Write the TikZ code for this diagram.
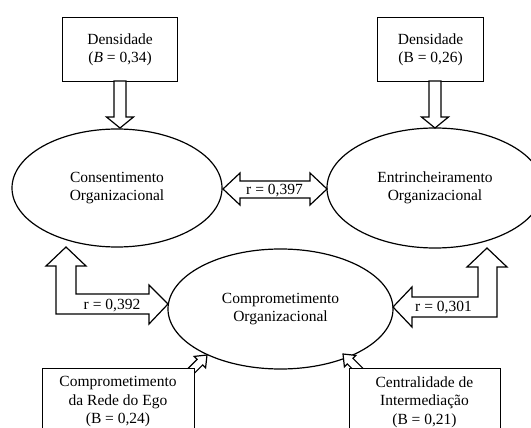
\documentclass[tikz,border=0pt]{standalone}
\usepackage{fontspec}
\setmainfont{Liberation Serif}
\usetikzlibrary{shapes.geometric}
\begin{document}
\begin{tikzpicture}[x=1pt,y=-1pt,
  every node/.style={font=\fontsize{15.5}{18.5}\selectfont, align=center, inner sep=0pt},
  oval/.style={draw, line width=1.2pt, ellipse},
  box/.style={draw, line width=1.2pt, fill=white, anchor=north west},
  blk/.style={draw, line width=1.2pt, fill=white, line join=miter},
  lab/.style={font=\fontsize{15.5}{18}\selectfont}]
\useasboundingbox (0,0) rectangle (531,428);
\clip (0,0) rectangle (531,428);
\fill[white] (0,0) rectangle (531,428);

% ellipses
\node[oval, minimum width=210pt, minimum height=118pt] (cons) at (117,188) {Consentimento\\Organizacional};
\node[oval, minimum width=216pt, minimum height=120pt] (entr) at (435,188) {Entrincheiramento\\Organizacional};
\node[oval, minimum width=225pt, minimum height=120pt] (comp) at (280.5,309) {Comprometimento\\Organizacional};

% top boxes
\node[box, minimum width=115pt, minimum height=64pt] (d1) at (62,17) {};
\node at (d1.center) {Densidade\\(\textit{B} = 0,34)};
\node[box, minimum width=106pt, minimum height=64pt] (d2) at (377,17) {};
\node at (d2.center) {Densidade\\(B = 0,26)};

% down arrows
\draw[blk] (114,81) -- (126,81) -- (126,117) -- (133.5,117) -- (120,128) -- (106.5,117) -- (114,117) -- cycle;
\draw[blk] (429,81) -- (441,81) -- (441,117) -- (448.5,117) -- (435,128) -- (421.5,117) -- (429,117) -- cycle;

% double arrow between cons and entr
\draw[blk] (223,189) -- (240,173) -- (240,181) -- (310,181) -- (310,173) -- (327,189) -- (310,205) -- (310,198) -- (240,198) -- (240,205) -- cycle;
\node[lab] (r1) at (274.5,191) {r = 0,397};

% left L arrow
\draw[blk] (66,247) -- (86,266) -- (76,266) -- (76,294) -- (149,294) -- (149,285) -- (168,304) -- (149,324) -- (149,314) -- (56,314) -- (56,266) -- (46,266) -- cycle;
\node[lab] (r2) at (112,306) {r = 0,392};

% right L arrow
\draw[blk] (487,248) -- (507,267) -- (497,267) -- (497,317) -- (412,317) -- (412,327) -- (393,307) -- (412,287) -- (412,297) -- (478,297) -- (478,267) -- (467,267) -- cycle;
\node[lab] (r3) at (443.5,308) {r = 0,301};

% small diagonal arrows
\draw[blk] (207,355) -- (205.6,367.8) -- (202.7,364.9) -- (191.4,376.2) -- (185.8,370.6) -- (197.1,359.3) -- (194.2,356.4) -- cycle;
\draw[blk] (343,354) -- (355.8,355.4) -- (352.9,358.3) -- (364.2,369.6) -- (358.6,375.2) -- (347.3,363.9) -- (344.4,366.8) -- cycle;

% bottom boxes
\node[box, minimum width=152pt, minimum height=90pt] (b1) at (42,368) {};
\node at (118,402) {Comprometimento\\da Rede do Ego\\(B = 0,24)};
\node[box, minimum width=151pt, minimum height=90pt] (b2) at (349,368) {};
\node at (424.5,402) {Centralidade de\\Intermediação\\(B = 0,21)};
\end{tikzpicture}
\end{document}
